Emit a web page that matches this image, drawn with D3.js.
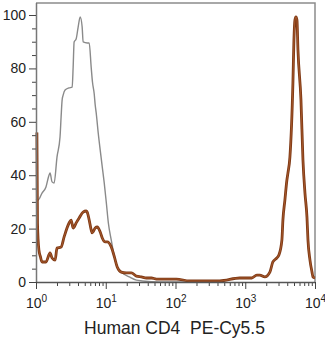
<!DOCTYPE html>
<html>
<head>
<meta charset="utf-8">
<script src="https://cdn.jsdelivr.net/npm/d3@7"></script>
<style>
  html, body { margin: 0; padding: 0; background: #fff; }
  svg { display: block; font-family: "Liberation Sans", Arial, Helvetica, sans-serif; }
</style>
</head>
<body>
<svg id="chart" width="325" height="339"></svg>
<script>
// Isotype control histogram (grey): fluorescence vs. % of max
const isoX = [1.0, 1.07, 1.22, 1.39, 1.54, 1.59, 1.70, 1.82, 2.00, 2.21, 2.29, 2.37, 2.45, 2.61, 2.98, 3.30, 3.41, 3.52, 3.76, 4.02, 4.30, 4.59, 4.74, 5.42, 5.79, 6.18, 6.45, 6.83, 7.06, 7.30, 7.80, 8.33, 8.91, 9.51, 10.2, 10.9, 12.0, 13.3, 14.6, 17.3, 21.8, 27.5, 33.5, 58.9, 200];
const isoY = [31, 30.7, 33.3, 35.6, 40.1, 40.8, 37.5, 37.1, 46.8, 54.3, 61.8, 68.2, 70.0, 71.9, 72.7, 73.0, 80.5, 89.9, 91.0, 95.5, 99.3, 95.5, 89.9, 89.5, 89.5, 80.5, 74.9, 70.5, 66.3, 63.3, 55.8, 49.4, 43.1, 37.1, 29.6, 22.1, 15.7, 9.4, 5.6, 3.4, 1.9, 0.7, 0.4, 0, 0];

// Anti-human CD4 PE-Cy5.5 stained histogram (brown)
const cd4X = [1.03, 1.05, 1.10, 1.16, 1.22, 1.39, 1.59, 1.70, 1.88, 2.00, 2.29, 2.53, 2.98, 3.19, 3.41, 3.76, 4.16, 4.74, 5.24, 5.42, 5.79, 6.18, 6.39, 7.06, 7.55, 8.33, 8.91, 9.84, 10.5, 12.0, 13.3, 14.6, 16.7, 19.7, 23.3, 27.5, 32.4, 38.3, 45.2, 53.3, 74.3, 103, 159, 430, 834, 1241, 1463, 1617, 1909, 2254, 2489, 2840, 3036, 3352, 3467, 3702, 3955, 4090, 4368, 4823, 4988, 5156, 5333, 5512, 5698, 6290, 6720, 7180, 7670, 7930, 8470, 9060, 9360, 10000];
const cd4Y = [56, 22, 12, 9.4, 7.5, 7.5, 10.9, 9.0, 8.2, 12.7, 13.1, 16.9, 22.1, 23.2, 20.2, 22.1, 24.0, 26.2, 26.6, 26.2, 23.2, 19.5, 18.4, 20.2, 20.6, 18.7, 16.5, 15.0, 15.0, 13.1, 9.4, 5.6, 3.7, 3.4, 3.4, 2.2, 1.9, 1.5, 1.5, 1.1, 1.1, 1.1, 0.4, 0.4, 1.5, 1.5, 2.6, 2.6, 1.9, 3.7, 7.5, 9.0, 10.1, 15.7, 23.2, 30.7, 38.2, 40.8, 46.8, 74.5, 90.6, 98.1, 99.3, 98.1, 86.9, 68.2, 45.7, 33.3, 24.3, 15.7, 8.2, 3.7, 1.9, 1.5];

// Axis ticks and labels
const decadeTicks = [1, 10, 100, 1000, 10000];
const decadeExp = ["0", "1", "2", "3", "4"];
const yTicks = [0, 20, 40, 60, 80, 100];
const yLabels = ["0", "20", "40", "60", "80", "100"];
const axisTitle = "Human CD4  PE-Cy5.5";

const svg = d3.select("#chart");
const plotL = 36, plotR = 315, plotT = 3, plotB = 282;

const x = d3.scaleLog().domain([1, 10000]).range([plotL, plotR]);
const y = d3.scaleLinear().domain([0, 104.5]).range([plotB, plotT]);

const minorX = [];
for (let k = 0; k < 4; k++) for (let m = 2; m <= 9; m++) minorX.push(m * Math.pow(10, k));
const minorY = d3.range(5, 101, 5).filter(v => v % 20 !== 0);

// Frame (top and right)
svg.append("path")
  .attr("d", `M${plotL},${plotT}H${plotR}V${plotB}`)
  .attr("fill", "none").attr("stroke", "#8c8c8c").attr("stroke-width", 1.5);

// Curves
const line = d3.line().x(d => x(d[0])).y(d => y(d[1])).curve(d3.curveMonotoneX);
const isoData = isoX.map((v, i) => [v, isoY[i]]);
const cd4Data = cd4X.map((v, i) => [v, cd4Y[i]]);

svg.append("path").datum(isoData).attr("d", line)
  .attr("fill", "none").attr("stroke", "#8a8a8a").attr("stroke-width", 1.4)
  .attr("stroke-linejoin", "round");
svg.append("path").datum(cd4Data).attr("d", line)
  .attr("fill", "none").attr("stroke", "#7d3814").attr("stroke-width", 2.8)
  .attr("stroke-linejoin", "round");
svg.append("path").datum(cd4Data).attr("d", line)
  .attr("fill", "none").attr("stroke", "#a3562a").attr("stroke-width", 1.1)
  .attr("stroke-linejoin", "round");

// Y axis
const yMinor = svg.append("g").attr("transform", `translate(${plotL},0)`)
  .call(d3.axisLeft(y).tickValues(minorY).tickSize(4).tickFormat(""));
yMinor.select(".domain").remove();
const yMajor = svg.append("g").attr("transform", `translate(${plotL},0)`)
  .call(d3.axisLeft(y).tickValues(yTicks).tickSize(7).tickPadding(3)
    .tickFormat((d, i) => yLabels[i]));
yMajor.select(".domain").attr("d", `M0.5,${plotT}V${plotB}`).attr("stroke", "#777").attr("stroke-width", 1.5);
yMajor.selectAll("text").attr("font-size", 14).attr("fill", "#222")
  .attr("font-family", "Liberation Sans, Arial, sans-serif");

// X axis
const xMinor = svg.append("g").attr("transform", `translate(0,${plotB})`)
  .call(d3.axisBottom(x).tickValues(minorX).tickSize(4).tickFormat(""));
xMinor.select(".domain").remove();
const xMajor = svg.append("g").attr("transform", `translate(0,${plotB})`)
  .call(d3.axisBottom(x).tickValues(decadeTicks).tickSize(7).tickFormat(""));
xMajor.select(".domain").attr("d", `M${plotL},0.5H${plotR}`).attr("stroke", "#555").attr("stroke-width", 1.5);
svg.selectAll(".tick line").attr("stroke", "#444");

const xl = xMajor.selectAll(".tick").append("text")
  .attr("y", 26).attr("fill", "#222").attr("text-anchor", "middle")
  .attr("font-size", 14).attr("font-family", "Liberation Sans, Arial, sans-serif");
xl.append("tspan").text("10");
xl.append("tspan").attr("dy", -6).attr("font-size", 10).text((d, i) => decadeExp[i]);

// Axis title (double space kept between marker and fluorochrome)
svg.append("text")
  .attr("x", (plotL + plotR) / 2 - 1).attr("y", 334)
  .attr("text-anchor", "middle").attr("font-size", 17.5).attr("fill", "#222")
  .style("white-space", "pre")
  .text(axisTitle);
</script>
</body>
</html>
